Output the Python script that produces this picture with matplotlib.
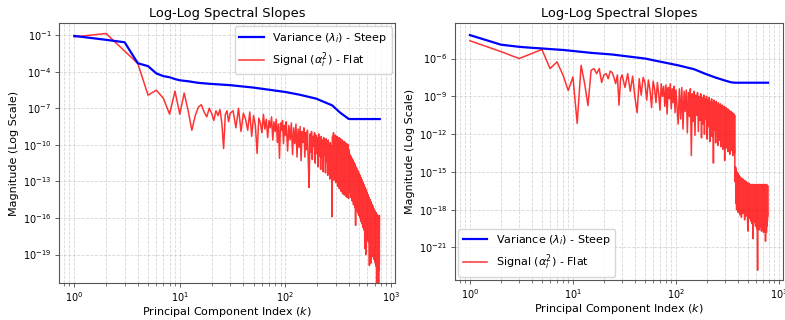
import numpy as np
import matplotlib
matplotlib.use("Agg")
import matplotlib.pyplot as plt

ZERO = float("-inf")  # exact zero magnitude (clipped on log axis)

# ---------------- Left panel data (log10 magnitudes) ----------------
blue_left_k = [1, 2, 3, 4, 5, 6, 7, 8, 9, 10, 12, 15, 20, 30, 50, 75, 100, 136, 195, 277, 330, 400, 784]
blue_left_exp = [-1.06, -1.38, -1.58, -3.3, -3.54, -4.14, -4.36, -4.45, -4.6, -4.7, -4.78, -4.91, -5.0,
                 -5.1, -5.3, -5.51, -5.66, -5.88, -6.2, -6.75, -7.35, -7.88, -7.88]

red_left_k = [1, 2, 3, 4, 5, 6, 7, 8, 9, 10, 11, 12, 13, 14, 15, 16, 17, 18, 19, 20, 21, 22, 23, 24, 25,
              26, 27, 28, 29, 30,
              32, 34, 36, 38, 40, 42, 44, 46, 48, 50, 52, 54, 56, 58, 60, 62, 64, 66, 68, 70, 72, 74, 76,
              78, 80, 82, 84, 86, 88, 90, 92, 94, 96, 98, 100,
              102, 105, 108, 111, 114, 117, 120, 123, 126, 129, 132, 135, 138, 141, 144, 147, 150, 153,
              156, 159, 162, 165, 168, 171, 174, 177, 180, 183, 186, 189, 192, 195, 198, 201, 204, 207,
              210, 213, 216, 219, 222, 225, 228, 231, 234, 237, 240, 243, 246, 249, 252, 255, 258, 261,
              264, 267, 270, 273, 277, 280,
              283, 286, 289, 292, 295, 298, 301, 304, 307, 310, 313, 316, 319, 322, 325, 328, 331, 334,
              337, 340, 343, 346, 349, 352, 355, 358, 361, 364, 367, 370, 373, 376, 379, 382, 385, 388,
              391, 394, 397, 400,
              403, 406, 409, 412, 415, 418, 421, 424, 427, 430, 433, 436, 439, 442, 445, 448, 451, 454,
              457, 460, 463, 466, 469, 472, 475, 478, 481, 484, 487, 490, 493, 496, 499, 502, 505, 508,
              511, 514, 517, 520, 523, 526, 529, 532, 535, 538, 541, 544, 547, 550, 553, 556, 559, 562,
              566, 569, 572, 575, 578, 581, 584, 587, 590, 593, 596, 599, 602, 605, 608, 611, 614, 617,
              620, 623, 626, 629, 632, 635, 638, 641, 645, 648, 651, 654, 657, 660, 663, 666, 669, 672,
              675, 678, 681, 684, 687, 690, 693, 696, 699, 702, 705, 708, 711, 714, 717, 720, 723, 726,
              729, 732, 735, 738, 741, 744, 747, 750, 753, 756, 759, 762, 765, 768, 771, 774, 777, 780]
red_left_exp = [-1.14, -0.86, -2.3, -3.32, -5.92, -5.51, -6.19, -7.48, -5.59, -7.48, -5.75, -7.2, -8.8,
                -7.6, -6.9, -6.7, -7.3, -7.7, -7.0, -7.4, -8.0, -7.2, -7.6, -7.1, -8.2,
                -10.3, -7.5, -7.2, -8.1, -7.4,
                -7.2, -8.6, -7.0, -8.9, -7.4, -7.9, -8.8, -7.3, -9.3, -7.6, -8.4, -10.7, -7.8, -8.2, -9.0,
                -7.5, -8.7, -7.9, -9.4, -8.0, -8.6, -7.7, -9.6, -8.1, -8.9, -7.9, -9.8, -8.3, -11.1, -8.2,
                -8.8, -8.0, -9.9, -8.4, -9.2,
                -8.1, -10.5, -8.4, -9.6, -8.2, -10.8, -8.6, -9.9, -8.3, -11.0, -8.7, -10.2, -8.5, -11.3,
                -8.9, -9.8, -8.6, -11.0, -9.0, -10.4, -8.8, -11.4, -13.5, -9.1, -10.6, -8.9, -11.2, -9.3,
                -10.1, -9.0, -11.5, -9.2, -10.7, -9.4, -11.8, -9.1, -10.9, -9.5, -12.0, -9.3, -11.1, -9.6,
                -12.2, -9.4, -10.8, -9.7, -12.3, -9.5, -11.4, -9.8, -12.5, -9.6, -11.7, -10.0, -12.8, -9.8,
                -11.9, -10.1, -15.9, -9.3,
                -12.5, -9.0, -12.9, -9.4, -12.3, -9.2, -13.1, -9.5, -12.6, -9.3, -13.4, -9.6, -12.8, -9.4,
                -13.6, -9.7, -13.0, -9.5, -13.8, -9.8, -13.2, -9.6, -14.0, -9.9, -13.4, -9.7, -14.1, -10.0,
                -13.6, -9.8, -14.2, -10.1, -13.8, -9.9, -14.3, -10.2, -14.0, -10.0, -14.4, -10.4,
                -10.6, -13.9, -10.8, -13.2, -10.9, -14.3, -11.0, -13.5, -11.1, -14.6, -11.2, -13.8, -11.3,
                -14.9, -11.4, -14.2, -11.5, -15.1, -11.6, -14.4, -16.6, -11.8, -14.7, -11.9, -15.4, -12.0,
                -14.9, -12.1, -15.6, -12.2, -15.0, -12.3, -15.8, -12.4, -15.3, -12.5, -16.0, -12.6, -15.5,
                -12.7, -16.3, -12.8, -15.7, -12.9, -16.5, -13.0, -16.0, -13.1, -16.8, -13.2, -16.2, -13.3,
                -17.0, -13.4, -18.5, -13.5, -16.6, -13.6, -19.0, -13.7, -17.0, -13.8, -17.5, -13.9, -17.2,
                -14.0, -17.8, -14.1, -17.4, -14.2, -18.0, -14.3, -17.6, -14.4, -19.9, -14.5, -18.2, -14.5,
                -19.5, -14.6, -19.7, -14.7, -18.4, -14.8, -18.8, -14.9, -18.5, -15.0, -19.0, -15.0, -18.7,
                -15.1, -19.2, -15.2, -18.9, -15.3, -19.4, -15.3, -19.0, -15.4, -19.6, -15.5, -19.2, -15.5,
                -19.8, -15.6, -19.4, -15.6, -20.0, -15.7, ZERO, -15.7, ZERO, -15.8, -20.2, -15.8, ZERO,
                -15.9, -20.4, -15.9, ZERO, -16.0, -20.3, -16.0, -19.8, -15.8]

# ---------------- Right panel data (log10 magnitudes) ----------------
blue_right_k = [1, 2, 3, 4, 5, 6, 8, 10, 15, 24, 50, 105, 150, 191, 240, 297, 340, 371, 784]
blue_right_exp = [-4.14, -4.9, -5.07, -5.15, -5.2, -5.25, -5.32, -5.4, -5.55, -5.68, -6.0, -6.54, -6.85,
                  -7.2, -7.5, -7.74, -7.88, -7.92, -7.92]

red_right_k = [1, 2, 3, 4, 5, 6, 7, 8, 9, 10, 11, 12, 13, 14, 15, 16, 17, 18, 19, 20, 21, 22, 23, 24, 25,
               26, 27, 28, 29, 30, 32, 34, 36, 38, 40, 42, 44, 46, 48, 50, 52, 54, 56, 58, 60, 62, 64, 66,
               68, 70, 72, 74, 76, 78, 80, 82, 84, 86, 88, 90, 92, 94, 96, 98, 100, 102,
               105, 108, 111, 114, 117, 120, 123, 126, 129, 132, 135, 138, 141, 144, 147, 150, 153, 156,
               159, 162, 165, 168, 171, 174, 177, 180, 183, 186, 189, 192, 195, 198, 201, 204, 207, 210,
               213, 216, 219, 222, 225, 228, 231, 234, 237, 240, 243, 246, 249, 252, 255, 258, 261, 264,
               267, 270, 273, 276, 279, 282, 285, 288, 291, 294, 297, 300, 303, 306, 309, 312, 315, 318,
               321, 324, 327, 330, 333, 336, 339, 342, 345, 348, 351, 354, 357, 360, 363, 366, 369, 371,
               373, 376, 379, 382, 385, 388, 391, 394, 397, 400, 404, 408, 412, 416, 420, 424, 428, 432,
               436, 440, 444, 448, 452, 456, 460, 464, 468, 472, 476, 480, 484, 488, 492, 496, 500, 504,
               508, 512, 516, 520, 524, 528, 532, 536, 540, 544, 548, 552, 556, 560, 564, 568, 572, 576,
               580, 584, 588, 592, 596, 600, 604, 608, 612, 616, 620, 624, 628, 632, 636, 640, 644, 648,
               652, 656, 660, 664, 668, 672, 676, 680, 684, 688, 692, 696, 700, 704, 708, 712, 716, 720,
               724, 728, 732, 736, 740, 744, 748, 752, 756, 760, 764, 768, 772, 776, 778]
red_right_exp = [-4.59, -5.45, -6.0, -5.6, -5.28, -6.8, -6.27, -7.3, -8.54, -7.47, -11.15, -6.54, -8.0,
                 -9.74, -6.94, -6.8, -7.2, -6.8, -7.9, -7.3, -7.2, -7.6, -7.0, -7.1, -7.5,
                 -8.0, -7.3, -9.7, -7.6, -7.3, -8.3, -7.2, -8.6, -7.4, -9.1, -10.3, -7.6, -8.9, -7.5, -7.9,
                 -9.3, -7.7, -8.5, -9.9, -7.8, -8.4, -9.5, -7.9, -8.8, -10.1, -8.0, -9.0, -8.2, -9.8, -8.1,
                 -10.4, -8.3, -9.2, -8.0, -10.0, -8.4, -9.5, -8.2, -10.3, -8.5, -9.6,
                 -11.2, -8.4, -10.8, -8.3, -11.6, -8.6, -10.2, -8.5, -11.9, -8.7, -10.6, -8.4, -13.7, -8.8,
                 -11.0, -8.6, -12.1, -8.9, -10.5, -8.7, -11.8, -9.0, -10.9, -8.8, -12.3, -9.1, -11.2, -8.9,
                 -12.0, -9.2, -10.8, -9.0, -12.4, -9.3, -11.4, -9.1, -12.6, -9.4, -11.1, -9.2, -12.2, -9.5,
                 -14.3, -9.3, -11.7, -9.6, -12.7, -9.4, -11.5, -9.7, -12.9, -9.5, -11.9, -9.8, -12.5, -9.6,
                 -13.0, -9.9, -12.1, -9.7, -13.2, -10.0, -12.3, -9.8, -14.1, -10.1, -12.6, -9.9, -13.1,
                 -10.2, -12.4, -10.0, -13.4, -10.3, -12.7, -10.1, -13.6, -10.4, -12.9, -10.2, -13.3, -10.5,
                 -12.8, -10.3, -13.7, -10.6, -13.0, -10.4, -13.5, -10.5,
                 -14.4, -15.8, -14.6, -17.5, -14.8, -18.0, -15.0, -17.3, -15.1, -18.2, -15.2, -17.6, -15.3,
                 -18.4, -15.4, -17.8, -15.5, -18.6, -15.5, -17.9, -15.6, -18.3, -15.6, -17.7, -15.7, -18.8,
                 -15.7, -18.0, -15.8, -18.5, -15.8, -17.9, -15.9, -19.0, -19.7, -15.9, -18.2, -15.9, -18.7,
                 -16.0, -18.1, -16.0, -18.9, -16.0, -18.3, -16.0, -19.1, -16.0, -18.4, -20.3, -16.0, -18.6,
                 -16.1, -19.0, -16.0, -18.5, -16.1, -19.3, -16.0, -18.7, -16.1, -19.5, -16.0, -18.8, -22.8,
                 -16.1, -19.2, -16.0, -18.9, -16.1, -19.6, -16.0, -18.8, -16.1, -19.4, -16.0, -18.9, -16.1,
                 -19.7, -16.0, -19.0, -16.1, -19.5, -16.0, -19.1, -16.1, -19.8, -16.0, -19.2, -16.1, -19.6,
                 -16.0, -19.3, -16.1, -20.5, -16.0, -19.4, -16.1, -19.8, -16.0, -19.3, -16.1, -18.9, -16.1,
                 -18.5]

title_text = "Log-Log Spectral Slopes"
xlabel_text = r"Principal Component Index ($k$)"
ylabel_text = "Magnitude (Log Scale)"
blue_label = r"Variance ($\lambda_i$) - Steep"
red_label = r"Signal ($\alpha_i^2$) - Flat"


def mags(exps):
    return np.power(10.0, np.array(exps, dtype=float))


fig = plt.figure(figsize=(7.85, 3.2), dpi=100)
ax1 = fig.add_axes([59 / 785, 37 / 320, 336 / 785, 260 / 320])
ax2 = fig.add_axes([455 / 785, 40 / 320, 328 / 785, 257 / 320])

panels = [
    (ax1, blue_left_k, blue_left_exp, red_left_k, red_left_exp, "upper right", (10 ** -21.33, 10 ** 0.0)),
    (ax2, blue_right_k, blue_right_exp, red_right_k, red_right_exp, "lower left", (10 ** -23.58, 10 ** -3.18)),
]

for ax, bk, be, rk, re, loc, ylim in panels:
    ax.plot(bk, mags(be), color="blue", lw=1.6, label=blue_label, zorder=3)
    ax.plot(rk, mags(re), color="red", lw=1.1, alpha=0.8, label=red_label, zorder=2)
    ax.set_xscale("log")
    ax.set_yscale("log")
    ax.set_ylim(*ylim)
    ax.set_title(title_text, fontsize=9.4, pad=4)
    ax.set_xlabel(xlabel_text, fontsize=8, labelpad=0.5)
    ax.set_ylabel(ylabel_text, fontsize=8, labelpad=3)
    ax.tick_params(axis="both", which="major", labelsize=7, length=3, width=0.6, color="#444444", pad=2.5)
    ax.tick_params(axis="both", which="minor", length=1.8, width=0.5, color="#444444")
    ax.grid(True, which="both", ls="--", lw=0.6, alpha=0.5)
    for sp in ax.spines.values():
        sp.set_color("#555555")
        sp.set_linewidth(0.8)
    ax.legend(loc=loc, fontsize=8, borderaxespad=0.3, handlelength=2.2)

fig.savefig("out.png", dpi=100)
